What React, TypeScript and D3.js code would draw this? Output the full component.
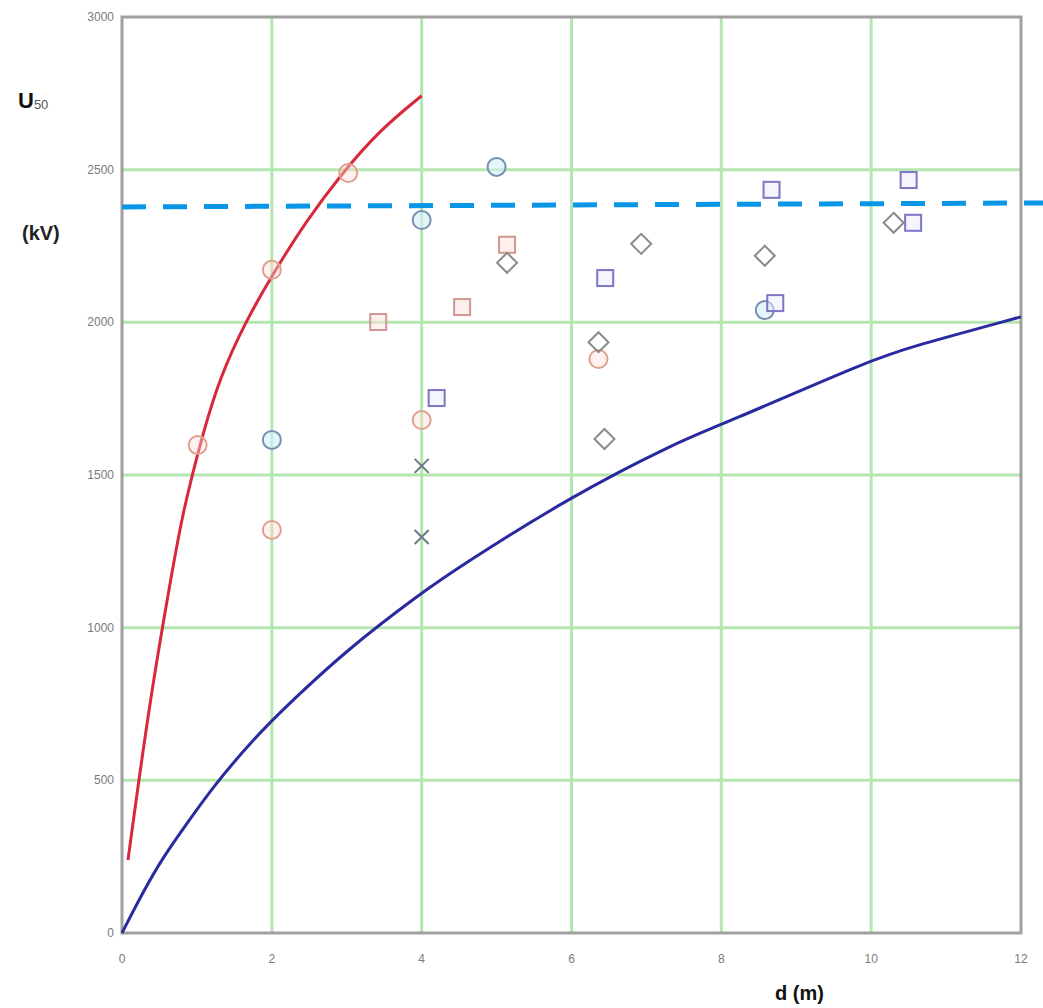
import React from 'react';
import * as d3 from 'd3';

// axis ticks
const xTicks = [0, 2, 4, 6, 8, 10, 12];
const yTicks = [0, 500, 1000, 1500, 2000, 2500, 3000];

// red fitted curve (d in m, U50 in kV)
const redCurveD = [0.08, 0.37, 0.68, 0.81, 1.08, 1.31, 1.64, 2.02, 2.47, 2.91, 3.44, 4.0];
const redCurveU = [239, 763, 1199, 1376, 1638, 1821, 1998, 2162, 2335, 2480, 2630, 2742];

// blue lower curve
const blueCurveD = [0, 0.28, 0.55, 0.87, 1.22, 1.75, 2.28, 3.0, 4.0, 4.54, 5.98, 7.41, 8.0, 10.0, 10.52, 12.0];
const blueCurveU = [0, 134, 249, 360, 480, 635, 763, 927, 1115, 1205, 1428, 1608, 1664, 1877, 1919, 2018];

// dashed reference level
const dashD = [0, 12.3];
const dashU = [2378, 2391];

// measured points
const redCircleD = [1.01, 2.0, 2.0, 3.02, 4.0, 6.36];
const redCircleU = [1598, 2172, 1320, 2489, 1680, 1880];
const blueCircleD = [2.0, 4.0, 5.0, 8.58];
const blueCircleU = [1615, 2335, 2509, 2040];
const diamondD = [5.14, 6.93, 6.36, 6.44, 8.58, 10.3];
const diamondU = [2195, 2257, 1935, 1618, 2218, 2326];
const redSquareD = [3.42, 4.54, 5.14];
const redSquareU = [2001, 2050, 2254];
const blueSquareD = [6.45, 4.2, 8.67, 8.72, 10.5, 10.56];
const blueSquareU = [2145, 1752, 2434, 2063, 2466, 2326];
const crossD = [4.0, 4.0];
const crossU = [1530, 1297];

const W = 1043;
const H = 1008;
const margin = { top: 17, right: 22, bottom: 75, left: 122 };

export default function App() {
  const x = d3.scaleLinear().domain([0, 12]).range([margin.left, W - margin.right]);
  const y = d3.scaleLinear().domain([0, 3000]).range([H - margin.bottom, margin.top]);

  const line = d3.line<[number, number]>()
    .x(d => x(d[0]))
    .y(d => y(d[1]))
    .curve(d3.curveBasis);

  const redPath = line(redCurveD.map((d, i) => [d, redCurveU[i]]));
  const bluePath = line(blueCurveD.map((d, i) => [d, blueCurveU[i]]));
  const dashPath = d3.line<[number, number]>().x(d => x(d[0])).y(d => y(d[1]))(dashD.map((d, i) => [d, dashU[i]]));

  const x0 = x(0), x1 = x(12), y0 = y(0), y1 = y(3000);
  const tickFont = 'Arial, "Liberation Sans", sans-serif';

  return (
    <svg width={W} height={H} style={{ position: 'absolute', left: 0, top: 0, background: '#fff' }}>
      {/* grid */}
      <g stroke="#b4e6b0" strokeWidth={3}>
        {xTicks.slice(1, -1).map(t => (
          <line key={'gx' + t} x1={x(t)} x2={x(t)} y1={y1} y2={y0} />
        ))}
        {yTicks.slice(1, -1).map(t => (
          <line key={'gy' + t} x1={x0} x2={x1} y1={y(t)} y2={y(t)} />
        ))}
      </g>

      {/* frame */}
      <rect x={x0} y={y1} width={x1 - x0} height={y0 - y1} fill="none" stroke="#a0a0a0" strokeWidth={3} />

      {/* tick labels */}
      <g fill="#7a7a7a" fontFamily={tickFont} fontSize={12}>
        {yTicks.map(t => (
          <text key={'ty' + t} x={x0 - 8} y={y(t) + 4} textAnchor="end">{t}</text>
        ))}
        {xTicks.map(t => (
          <text key={'tx' + t} x={x(t)} y={y0 + 30} textAnchor="middle">{t}</text>
        ))}
      </g>

      {/* curves */}
      <path d={bluePath || ''} fill="none" stroke="#2a2aa0" strokeWidth={3} />
      <path d={redPath || ''} fill="none" stroke="#d8283c" strokeWidth={3} />
      <path d={dashPath || ''} fill="none" stroke="#0a96e6" strokeWidth={5} strokeDasharray="24 17" />

      {/* markers */}
      <g fill="none" strokeWidth={2}>
        {redCircleD.map((d, i) => (
          <circle key={'rc' + i} cx={x(d)} cy={y(redCircleU[i])} r={9} stroke="#e0a090" fill="rgba(255,220,210,0.4)" />
        ))}
        {blueCircleD.map((d, i) => (
          <circle key={'bc' + i} cx={x(d)} cy={y(blueCircleU[i])} r={9} stroke="#7890b0" fill="rgba(210,240,250,0.6)" />
        ))}
        {redSquareD.map((d, i) => (
          <rect key={'rs' + i} x={x(d) - 8} y={y(redSquareU[i]) - 8} width={16} height={16} stroke="#d09890" fill="rgba(255,225,225,0.5)" />
        ))}
        {blueSquareD.map((d, i) => (
          <rect key={'bs' + i} x={x(d) - 8} y={y(blueSquareU[i]) - 8} width={16} height={16} stroke="#7a76c4" fill="rgba(235,235,255,0.5)" />
        ))}
        {diamondD.map((d, i) => {
          const cx = x(d), cy = y(diamondU[i]);
          return (
            <path key={'dm' + i} d={`M${cx},${cy - 10}L${cx + 10},${cy}L${cx},${cy + 10}L${cx - 10},${cy}Z`} stroke="#8a8a8a" />
          );
        })}
        {crossD.map((d, i) => {
          const cx = x(d), cy = y(crossU[i]);
          return (
            <path key={'cr' + i} d={`M${cx - 7},${cy - 7}L${cx + 7},${cy + 7}M${cx + 7},${cy - 7}L${cx - 7},${cy + 7}`} stroke="#6a7888" />
          );
        })}
      </g>

      {/* axis titles */}
      <text x={18} y={108} fontFamily={tickFont} fontWeight="bold" fontSize={22} fill="#111">
        U<tspan fontSize={13} fontWeight="normal" fill="#555" dy={1}>50</tspan>
      </text>
      <text x={22} y={240} fontFamily={tickFont} fontWeight="bold" fontSize={20} fill="#222">(kV)</text>
      <text x={775} y={1000} fontFamily={tickFont} fontWeight="bold" fontSize={20} fill="#111">d (m)</text>
    </svg>
  );
}
